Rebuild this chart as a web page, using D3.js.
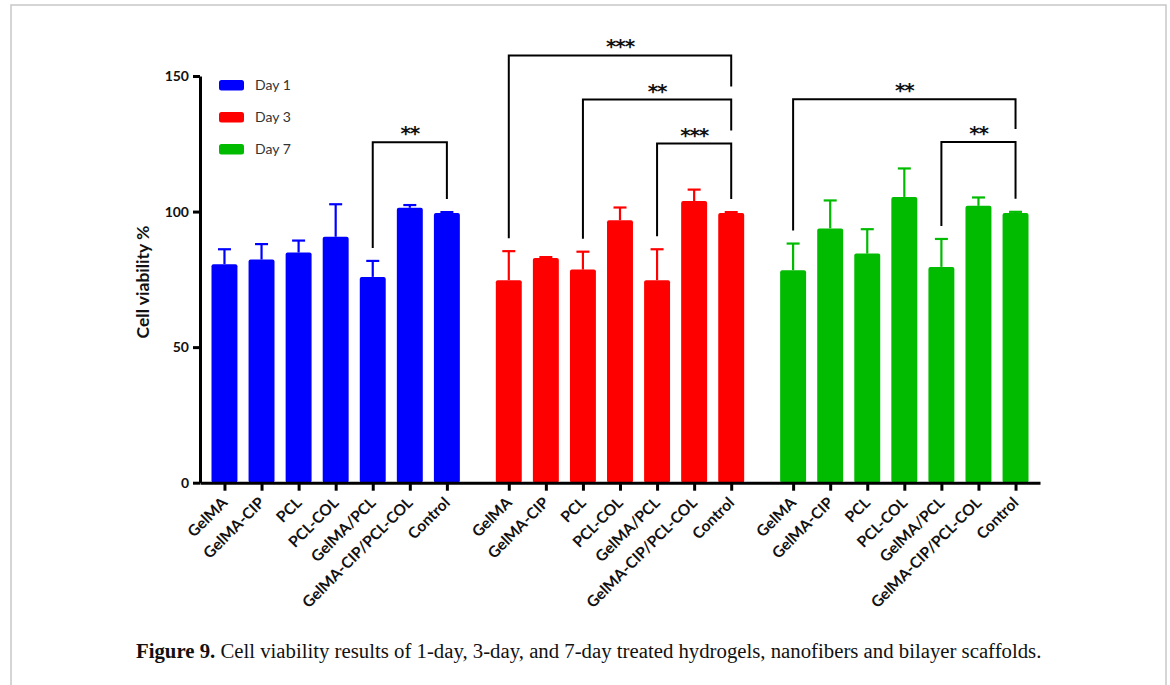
<!DOCTYPE html>
<html>
<head>
<meta charset="utf-8">
<script src="https://cdn.jsdelivr.net/npm/d3@7"></script>
<style>
  html, body { margin: 0; padding: 0; background: #fff; }
  svg { display: block; }
</style>
</head>
<body>
<svg id="chart" width="1170" height="685"></svg>
<script>
// Treatment groups shown on the x axis, repeated for each day
const categories = ["GelMA", "GelMA-CIP", "PCL", "PCL-COL", "GelMA/PCL", "GelMA-CIP/PCL-COL", "Control"];
const days = ["Day 1", "Day 3", "Day 7"];
const dayColors = ["#0000ff", "#ff0000", "#00bb00"];

// Mean cell viability (%) and upper error (SD)
const day1Mean = [80.6, 82.3, 84.9, 90.7, 75.9, 101.4, 99.5];
const day1Err  = [5.5, 5.7, 4.4, 12.0, 5.9, 1.0, 0.3];
const day3Mean = [74.7, 82.9, 78.6, 96.8, 74.7, 103.9, 99.5];
const day3Err  = [10.7, 0.3, 6.6, 4.7, 11.4, 4.2, 0.3];
const day7Mean = [78.4, 93.8, 84.5, 105.4, 79.6, 102.1, 99.5];
const day7Err  = [9.8, 10.3, 9.0, 10.5, 10.3, 3.1, 0.4];

const yTicks = [0, 50, 100, 150];

// Significance comparisons (day index, from / to category index, bracket level in %)
const brackets = [
  { day: 0, from: 4, to: 6, level: 125.6, label: "**" },
  { day: 1, from: 0, to: 6, level: 157.6, label: "***" },
  { day: 1, from: 2, to: 6, level: 141.3, label: "**" },
  { day: 1, from: 4, to: 6, level: 125.1, label: "***" },
  { day: 2, from: 0, to: 6, level: 141.4, label: "**" },
  { day: 2, from: 4, to: 6, level: 125.7, label: "**" }
];

const means = [day1Mean, day3Mean, day7Mean];
const errs = [day1Err, day3Err, day7Err];

const groupGap = 0.67;
const slot = (d, i) => d * (categories.length + groupGap) + i;

const data = [];
days.forEach((day, d) => {
  categories.forEach((c, i) => {
    data.push({ day: d, cat: i, name: c, mean: means[d][i], err: errs[d][i], pos: slot(d, i) });
  });
});

const svg = d3.select("#chart");
const axisFont = "Lato, 'Open Sans', sans-serif";

// Outer figure frame
svg.append("rect")
  .attr("x", 11).attr("y", 5).attr("width", 1155).attr("height", 700)
  .attr("fill", "none").attr("stroke", "#c8c8c8").attr("stroke-width", 1.5);

const x = d3.scaleLinear().domain([-0.66, 22.0]).range([200, 1040]);
const y = d3.scaleLinear().domain([0, 150]).range([482.7, 76]);

const step = x(1) - x(0);
const barW = step * 0.7;

// Bars
svg.append("g").selectAll("rect")
  .data(data).join("rect")
  .attr("x", d => x(d.pos) - barW / 2)
  .attr("y", d => y(d.mean))
  .attr("width", barW)
  .attr("height", d => y(0) - y(d.mean))
  .attr("rx", 2)
  .attr("fill", d => dayColors[d.day]);

// Error bars (upper only)
const eb = svg.append("g").selectAll("g").data(data).join("g")
  .attr("stroke", d => dayColors[d.day]).attr("stroke-width", 2.2);
eb.append("line")
  .attr("x1", d => x(d.pos)).attr("x2", d => x(d.pos))
  .attr("y1", d => y(d.mean)).attr("y2", d => y(d.mean + d.err));
eb.append("line")
  .attr("x1", d => x(d.pos) - 6.5).attr("x2", d => x(d.pos) + 6.5)
  .attr("y1", d => y(d.mean + d.err)).attr("y2", d => y(d.mean + d.err));

// Y axis
const yAxis = svg.append("g")
  .attr("transform", `translate(${x.range()[0]},0)`)
  .call(d3.axisLeft(y).tickValues(yTicks).tickSize(7).tickSizeOuter(0).tickPadding(4));
yAxis.select(".domain").attr("stroke", "#000").attr("stroke-width", 3);
yAxis.selectAll(".tick line").attr("stroke", "#000").attr("stroke-width", 3);
yAxis.selectAll(".tick text")
  .attr("font-family", axisFont).attr("font-weight", "bold")
  .attr("font-size", 14).attr("fill", "#111");

// X axis
const xAxis = svg.append("g")
  .attr("transform", `translate(0,${y(0)})`)
  .call(d3.axisBottom(x).tickValues(data.map(d => d.pos)).tickSize(8).tickSizeOuter(0).tickFormat(""));
xAxis.select(".domain").attr("stroke", "#000").attr("stroke-width", 3);
xAxis.selectAll(".tick line").attr("stroke", "#000").attr("stroke-width", 3);

// Rotated category labels
svg.append("g").selectAll("text")
  .data(data).join("text")
  .attr("transform", d => `translate(${x(d.pos) + 4},${y(0) + 21}) rotate(-45)`)
  .attr("text-anchor", "end")
  .attr("font-family", axisFont).attr("font-weight", "bold")
  .attr("font-size", 15.5).attr("fill", "#111")
  .text(d => d.name);

// Y axis title
svg.append("text")
  .attr("transform", `translate(149,282) rotate(-90)`)
  .attr("text-anchor", "middle")
  .attr("font-family", axisFont).attr("font-weight", "bold")
  .attr("font-size", 17.5).attr("fill", "#111")
  .text("Cell viability %");

// Legend
const legend = svg.append("g").selectAll("g").data(days).join("g")
  .attr("transform", (d, i) => `translate(219,${80 + i * 32})`);
legend.append("rect")
  .attr("width", 25).attr("height", 10.5).attr("rx", 2.5)
  .attr("fill", (d, i) => dayColors[i]);
legend.append("text")
  .attr("x", 36).attr("y", 10)
  .attr("font-family", axisFont).attr("font-size", 14).attr("fill", "#333")
  .text(d => d);

// Significance brackets
const legGap = 13;
const br = svg.append("g").selectAll("g").data(brackets).join("g");
br.each(function (b) {
  const g = d3.select(this);
  const xl = x(slot(b.day, b.from));
  const xr = x(slot(b.day, b.to));
  const yb = y(b.level);
  const leftEnd = y(means[b.day][b.from] + errs[b.day][b.from]) - legGap;
  // right leg stops above the next lower bracket of the same day, or above the Control error bar
  const lower = brackets.filter(o => o.day === b.day && o.to === b.to && o.level < b.level)
    .sort((p, q) => q.level - p.level)[0];
  const rightEnd = lower ? y(lower.level) - legGap
    : y(means[b.day][b.to] + errs[b.day][b.to]) - legGap;
  g.append("path")
    .attr("d", `M${xl},${leftEnd}V${yb}H${xr}V${rightEnd}`)
    .attr("fill", "none").attr("stroke", "#000").attr("stroke-width", 2);
  g.append("text")
    .attr("x", (xl + xr) / 2).attr("y", yb - 2)
    .attr("text-anchor", "middle")
    .attr("font-family", "'DejaVu Sans', sans-serif").attr("font-weight", "bold")
    .attr("font-size", 20).attr("letter-spacing", -1.2).attr("fill", "#111")
    .text(b.label);
});

// Caption
const cap = svg.append("text")
  .attr("x", 136).attr("y", 657.5)
  .attr("font-family", "'Liberation Serif', 'DejaVu Serif', serif")
  .attr("font-size", 17).attr("fill", "#111");
cap.append("tspan").attr("font-weight", "bold").text("Figure 9.");
cap.append("tspan").text(" Cell viability results of 1-day, 3-day, and 7-day treated hydrogels, nanofibers and bilayer scaffolds.");
const capW = cap.node().getComputedTextLength();
cap.attr("font-size", 17 * 906 / capW);
</script>
</body>
</html>
